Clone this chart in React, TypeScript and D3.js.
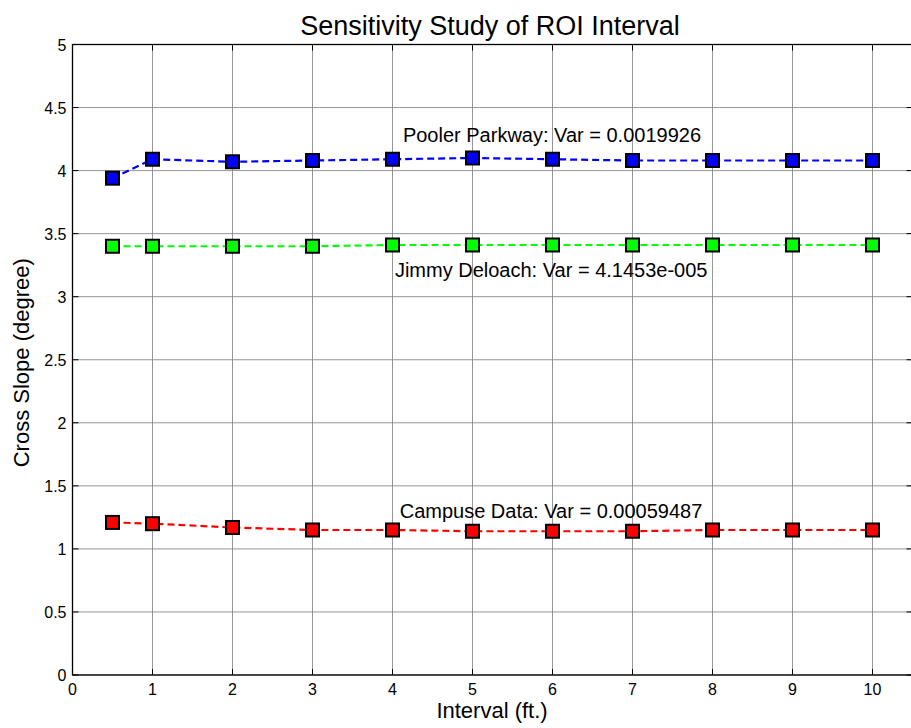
import React from "react";
import * as d3 from "d3";

const intervals = [0.5, 1, 2, 3, 4, 5, 6, 7, 8, 9, 10];
const poolerParkway = [3.94, 4.09, 4.07, 4.08, 4.09, 4.10, 4.09, 4.08, 4.08, 4.08, 4.08];
const jimmyDeloach = [3.40, 3.40, 3.40, 3.40, 3.41, 3.41, 3.41, 3.41, 3.41, 3.41, 3.41];
const campuseData = [1.21, 1.20, 1.17, 1.15, 1.15, 1.14, 1.14, 1.14, 1.15, 1.15, 1.15];

const seriesNames = ["Pooler Parkway", "Jimmy Deloach", "Campuse Data"];
const seriesColors = ["#0000ff", "#00ff00", "#ff0000"];
const annotations = [
  "Pooler Parkway: Var = 0.0019926",
  "Jimmy Deloach: Var = 4.1453e-005",
  "Campuse Data: Var = 0.00059487",
];
const annotationX = [4.13, 4.03, 4.09];
const annotationY = [4.28, 3.21, 1.30];

const xTicks = [0, 1, 2, 3, 4, 5, 6, 7, 8, 9, 10];
const yTicks = [0, 0.5, 1, 1.5, 2, 2.5, 3, 3.5, 4, 4.5, 5];

const W = 911;
const H = 728;
const FONT = "'Liberation Sans', Arial, Helvetica, sans-serif";

export default function App() {
  const left = 72.5;
  const right = 912.5;
  const top = 44.5;
  const bottom = 675;
  const x = d3.scaleLinear().domain([0, 10.5]).range([left, right]);
  const y = d3.scaleLinear().domain([0, 5]).range([bottom, top]);
  const seriesValues = [poolerParkway, jimmyDeloach, campuseData];
  const line = d3
    .line<[number, number]>()
    .x((d) => x(d[0]))
    .y((d) => y(d[1]));
  const tickLen = 6;
  const ms = 13;

  return (
    <svg
      width={W}
      height={H}
      style={{ position: "absolute", left: 0, top: 0, background: "#fff" }}
      fontFamily={FONT}
    >
      <rect x={0} y={0} width={W} height={H} fill="#fff" />
      {/* grid */}
      <g stroke="#8a8a8a" strokeWidth={0.9}>
        {xTicks.map((t) => (
          <line key={"gx" + t} x1={x(t)} x2={x(t)} y1={top} y2={bottom} />
        ))}
        {yTicks.map((t) => (
          <line key={"gy" + t} x1={left} x2={right} y1={y(t)} y2={y(t)} />
        ))}
      </g>
      {/* ticks */}
      <g stroke="#000" strokeWidth={1}>
        {xTicks.map((t) => (
          <g key={"tx" + t}>
            <line x1={x(t)} x2={x(t)} y1={bottom} y2={bottom - tickLen} />
            <line x1={x(t)} x2={x(t)} y1={top} y2={top + tickLen} />
          </g>
        ))}
        {yTicks.map((t) => (
          <g key={"ty" + t}>
            <line x1={left} x2={left + tickLen} y1={y(t)} y2={y(t)} />
            <line x1={right} x2={right - tickLen} y1={y(t)} y2={y(t)} />
          </g>
        ))}
      </g>
      {/* axes box */}
      <rect
        x={left}
        y={top}
        width={right - left}
        height={bottom - top}
        fill="none"
        stroke="#000"
        strokeWidth={1.3}
      />
      {/* tick labels */}
      <g fontSize={16} fill="#000">
        {xTicks.map((t) => (
          <text key={"lx" + t} x={x(t)} y={bottom + 20} textAnchor="middle">
            {String(t)}
          </text>
        ))}
        {yTicks.map((t) => (
          <text key={"ly" + t} x={left - 6} y={y(t) + 6} textAnchor="end">
            {String(t)}
          </text>
        ))}
      </g>
      {/* series */}
      {seriesValues.map((vals, i) => {
        const pts = intervals.map((v, j) => [v, vals[j]] as [number, number]);
        return (
          <g key={seriesNames[i]}>
            <path
              d={line(pts) || ""}
              fill="none"
              stroke={seriesColors[i]}
              strokeWidth={2.2}
              strokeDasharray="7,4"
            />
            {pts.map((p, j) => (
              <rect
                key={j}
                x={x(p[0]) - ms / 2}
                y={y(p[1]) - ms / 2}
                width={ms}
                height={ms}
                fill={seriesColors[i]}
                stroke="#000"
                strokeWidth={2}
              />
            ))}
          </g>
        );
      })}
      {/* annotations */}
      <g fontSize={20} fill="#000">
        {annotations.map((a, i) => (
          <text key={a} x={x(annotationX[i])} y={y(annotationY[i]) + 7}>
            {a}
          </text>
        ))}
      </g>
      {/* title and axis labels */}
      <text x={490} y={35} textAnchor="middle" fontSize={27} fill="#000">
        Sensitivity Study of ROI Interval
      </text>
      <text x={492} y={718} textAnchor="middle" fontSize={22} fill="#000">
        Interval (ft.)
      </text>
      <text
        transform={`translate(29, ${(top + bottom) / 2 + 3}) rotate(-90)`}
        textAnchor="middle"
        fontSize={22}
        fill="#000"
      >
        Cross Slope (degree)
      </text>
    </svg>
  );
}
